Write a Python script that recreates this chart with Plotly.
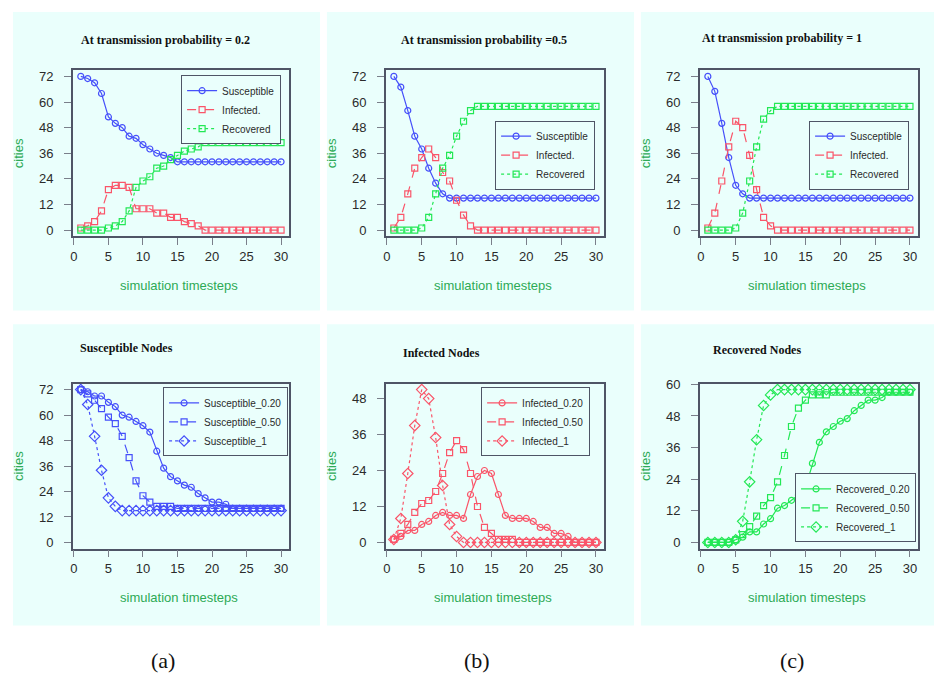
import plotly.graph_objects as go

# ---------------- data ----------------
steps = [1, 2, 3, 4, 5, 6, 7, 8, 9, 10, 11, 12, 13, 14, 15,
         16, 17, 18, 19, 20, 21, 22, 23, 24, 25, 26, 27, 28, 29, 30]
x_ticks = [0, 5, 10, 15, 20, 25, 30]

# top row: one simulation per transmission probability
p02_susceptible = [72, 71, 69, 64, 53, 50, 48, 44, 43, 40, 38, 36, 35, 34, 32,
                   32, 32, 32, 32, 32, 32, 32, 32, 32, 32, 32, 32, 32, 32, 32]
p02_infected = [1, 2, 4, 9, 19, 21, 21, 20, 10, 10, 10, 8, 8, 6, 6,
                4, 3, 2, 0, 0, 0, 0, 0, 0, 0, 0, 0, 0, 0, 0]
p02_recovered = [0, 0, 0, 0, 1, 2, 4, 9, 20, 23, 25, 29, 30, 33, 35,
                 37, 38, 39, 41, 41, 41, 41, 41, 41, 41, 41, 41, 41, 41, 41]

p05_susceptible = [72, 67, 56, 44, 38, 29, 22, 17, 15, 15, 15, 15, 15, 15, 15,
                   15, 15, 15, 15, 15, 15, 15, 15, 15, 15, 15, 15, 15, 15, 15]
p05_infected = [1, 6, 17, 29, 34, 38, 34, 27, 23, 14, 7, 2, 0, 0, 0,
                0, 0, 0, 0, 0, 0, 0, 0, 0, 0, 0, 0, 0, 0, 0]
p05_recovered = [0, 0, 0, 0, 1, 6, 17, 29, 35, 44, 51, 56, 58, 58, 58,
                 58, 58, 58, 58, 58, 58, 58, 58, 58, 58, 58, 58, 58, 58, 58]

p1_susceptible = [72, 65, 50, 34, 21, 17, 15, 15, 15, 15, 15, 15, 15, 15, 15,
                  15, 15, 15, 15, 15, 15, 15, 15, 15, 15, 15, 15, 15, 15, 15]
p1_infected = [1, 8, 23, 39, 51, 48, 35, 19, 6, 2, 0, 0, 0, 0, 0,
               0, 0, 0, 0, 0, 0, 0, 0, 0, 0, 0, 0, 0, 0, 0]
p1_recovered = [0, 0, 0, 0, 1, 8, 23, 39, 52, 56, 58, 58, 58, 58, 58,
                58, 58, 58, 58, 58, 58, 58, 58, 58, 58, 58, 58, 58, 58, 58]

# bottom row: comparison across probabilities
susceptible_020 = [72, 71, 69, 69, 66, 64, 60, 59, 57, 55, 52, 43, 35, 31, 29,
                   27, 26, 23, 21, 19, 19, 18, 16, 16, 16, 16, 16, 16, 16, 16]
susceptible_050 = [72, 70, 67, 63, 59, 56, 50, 40, 29, 22, 19, 17, 17, 17, 16,
                   16, 16, 16, 16, 16, 16, 16, 16, 16, 16, 16, 16, 16, 16, 16]
susceptible_1 = [72, 65, 50, 34, 21, 17, 15, 15, 15, 15, 15, 15, 15, 15, 15,
                 15, 15, 15, 15, 15, 15, 15, 15, 15, 15, 15, 15, 15, 15, 15]

infected_020 = [1, 2, 4, 4, 6, 7, 9, 10, 9, 9, 8, 16, 22, 24, 23,
                16, 9, 8, 8, 8, 7, 5, 5, 3, 3, 2, 0, 0, 0, 0]
infected_050 = [1, 3, 6, 10, 13, 14, 17, 23, 30, 34, 31, 23, 12, 5, 3,
                1, 1, 1, 0, 0, 0, 0, 0, 0, 0, 0, 0, 0, 0, 0]
infected_1 = [1, 8, 23, 39, 51, 48, 35, 19, 6, 2, 0, 0, 0, 0, 0,
              0, 0, 0, 0, 0, 0, 0, 0, 0, 0, 0, 0, 0, 0, 0]

recovered_020 = [0, 0, 0, 0, 1, 2, 4, 4, 7, 9, 13, 14, 16, 18, 21,
                 30, 38, 42, 44, 46, 47, 50, 52, 54, 54, 55, 57, 57, 57, 57]
recovered_050 = [0, 0, 0, 0, 1, 3, 6, 10, 14, 17, 23, 33, 44, 51, 54,
                 56, 56, 56, 57, 57, 57, 57, 57, 57, 57, 57, 57, 57, 57, 57]
recovered_1 = [0, 0, 0, 0, 1, 8, 23, 39, 52, 56, 58, 58, 58, 58, 58,
               58, 58, 58, 58, 58, 58, 58, 58, 58, 58, 58, 58, 58, 58, 58]

top_titles = ["At transmission probability = 0.2",
              "At transmission probability =0.5",
              "At transmission probability = 1"]
bottom_titles = ["Susceptible Nodes", "Infected Nodes", "Recovered Nodes"]
top_series_names = ["Susceptible", "Infected.", "Recovered"]
y_ticks_72 = [0, 12, 24, 36, 48, 60, 72]
y_ticks_48 = [0, 12, 24, 36, 48]
y_ticks_60 = [0, 12, 24, 36, 48, 60]
panel_labels = ["(a)", "(b)", "(c)"]

# ---------------- styling / layout ----------------
W, H = 934, 679
BLUE = "rgb(70,80,250)"
RED = "rgb(250,85,105)"
GREEN = "rgb(35,232,85)"
CYAN = "rgb(234,255,252)"
FRAME = "#4f5566"
TXT = "#2b2b2b"
AXTITLE = "rgb(45,170,85)"
SANS = "Liberation Sans, Arial, sans-serif"
SERIF = "Liberation Serif, Times New Roman, serif"

col_box = [(70, 287), (384, 603), (699, 918)]
row_box = [(64, 232), (381, 548)]
panel_x = [(10, 318), (325, 633), (640, 934)]
panel_y = [(5, 307), (321, 626)]


def fx(v):
    return v / W


def fy(v):
    return 1 - v / H


panels = [
    dict(title=top_titles[0], ymax=72, yticks=y_ticks_72, series=[
        (top_series_names[0], p02_susceptible, BLUE, "solid", "circle-open"),
        (top_series_names[1], p02_infected, RED, "dash", "square-open"),
        (top_series_names[2], p02_recovered, GREEN, "dot", "square-open")],
        legend=dict(right=279, top=69)),
    dict(title=top_titles[1], ymax=72, yticks=y_ticks_72, series=[
        (top_series_names[0], p05_susceptible, BLUE, "solid", "circle-open"),
        (top_series_names[1], p05_infected, RED, "dash", "square-open"),
        (top_series_names[2], p05_recovered, GREEN, "dot", "square-open")],
        legend=dict(right=594, top=115)),
    dict(title=top_titles[2], ymax=72, yticks=y_ticks_72, series=[
        (top_series_names[0], p1_susceptible, BLUE, "solid", "circle-open"),
        (top_series_names[1], p1_infected, RED, "dash", "square-open"),
        (top_series_names[2], p1_recovered, GREEN, "dot", "square-open")],
        legend=dict(right=909, top=115)),
    dict(title=bottom_titles[0], ymax=72, yticks=y_ticks_72, series=[
        ("Susceptible_0.20", susceptible_020, BLUE, "solid", "circle-open"),
        ("Susceptible_0.50", susceptible_050, BLUE, "dash", "square-open"),
        ("Susceptible_1", susceptible_1, BLUE, "dot", "diamond-open")],
        legend=dict(right=286, top=385)),
    dict(title=bottom_titles[1], ymax=51, yticks=y_ticks_48, series=[
        ("Infected_0.20", infected_020, RED, "solid", "circle-open"),
        ("Infected_0.50", infected_050, RED, "dash", "square-open"),
        ("Infected_1", infected_1, RED, "dot", "diamond-open")],
        legend=dict(right=589, top=385)),
    dict(title=bottom_titles[2], ymax=58, yticks=y_ticks_60, series=[
        ("Recovered_0.20", recovered_020, GREEN, "solid", "circle-open"),
        ("Recovered_0.50", recovered_050, GREEN, "dash", "square-open"),
        ("Recovered_1", recovered_1, GREEN, "dot", "diamond-open")],
        legend=dict(right=916, top=472)),
]

title_pos = [(163, 33), (483, 33), (782, 31), (124, 345), (440, 350), (756, 347)]

fig = go.Figure()
layout = dict(
    width=W, height=H, margin=dict(l=0, r=0, t=0, b=0),
    paper_bgcolor="white", plot_bgcolor=CYAN,
    showlegend=True, shapes=[], annotations=[],
)

for i, p in enumerate(panels):
    r, c = divmod(i, 3)
    n = i + 1
    xa = "x" if n == 1 else f"x{n}"
    ya = "y" if n == 1 else f"y{n}"
    lg = "legend" if n == 1 else f"legend{n}"
    sizes = {"circle-open": 6, "square-open": 6, "diamond-open": 8}
    for name, vals, color, dash, sym in p["series"]:
        fig.add_trace(go.Scatter(
            x=steps, y=vals, name=name, mode="lines+markers",
            xaxis=xa, yaxis=ya, legend=lg,
            line=dict(color=color, width=1.2, dash=dash),
            marker=dict(symbol=sym, size=sizes[sym], color=color,
                        line=dict(color=color, width=1.2)),
        ))
    ymax = p["ymax"]
    pad = ymax * 0.04
    x0, x1 = col_box[c]
    y0, y1 = row_box[r]
    layout["xaxis" if n == 1 else f"xaxis{n}"] = dict(
        domain=[fx(x0), fx(x1)], anchor=ya, range=[1 - 1.16, 30 + 1.16],
        tickvals=x_ticks, ticks="outside", ticklen=7, tickcolor="#7a7f8a",
        showline=True, mirror=True, linecolor=FRAME, linewidth=1.5,
        showgrid=False, zeroline=False,
        tickfont=dict(family=SANS, size=13, color=TXT),
    )
    layout["yaxis" if n == 1 else f"yaxis{n}"] = dict(
        domain=[fy(y1), fy(y0)], anchor=xa, range=[-pad, ymax + pad],
        tickvals=p["yticks"], ticks="outside", ticklen=7, tickcolor="#7a7f8a",
        showline=True, mirror=True, linecolor=FRAME, linewidth=1.5,
        showgrid=False, zeroline=False, ticklabelstandoff=8,
        tickfont=dict(family=SANS, size=13, color=TXT),
    )
    L = p["legend"]
    layout[lg] = dict(
        x=fx(L["right"]), y=fy(L["top"]), xanchor="right", yanchor="top",
        bgcolor=CYAN, bordercolor=FRAME, borderwidth=1,
        font=dict(family=SANS, size=10, color=TXT),
        itemwidth=30, tracegroupgap=0,
    )
    # panel background
    px0, px1 = panel_x[c]
    py0, py1 = panel_y[r]
    layout["shapes"].append(dict(
        type="rect", xref="paper", yref="paper", layer="below",
        x0=fx(px0), x1=fx(px1), y0=fy(py1), y1=fy(py0),
        fillcolor=CYAN, line=dict(width=0)))
    # panel title
    tx, ty = title_pos[i]
    layout["annotations"].append(dict(
        text=f"<b>{p['title']}</b>", xref="paper", yref="paper",
        x=fx(tx), y=fy(ty), showarrow=False, xanchor="center", yanchor="middle",
        font=dict(family=SERIF, size=12, color="#111")))
    # axis titles
    layout["annotations"].append(dict(
        text="cities", xref="paper", yref="paper", textangle=-90,
        x=fx(x0 - 55), y=fy((y0 + y1) / 2), showarrow=False,
        xanchor="center", yanchor="middle",
        font=dict(family=SANS, size=13, color=AXTITLE)))
    layout["annotations"].append(dict(
        text="simulation timesteps", xref="paper", yref="paper",
        x=fx((x0 + x1) / 2 - 2), y=fy(y1 + 50), showarrow=False,
        xanchor="center", yanchor="middle",
        font=dict(family=SANS, size=13, color=AXTITLE)))

for k, lab in enumerate(panel_labels):
    layout["annotations"].append(dict(
        text=lab, xref="paper", yref="paper",
        x=fx([161, 476, 792][k]), y=fy(661), showarrow=False,
        xanchor="center", yanchor="middle",
        font=dict(family=SERIF, size=22, color="#111")))

fig.update_layout(**layout)
fig.write_html(
    "out.html",
    config={"displayModeBar": False},
    post_script="document.body.style.margin='0px';"
                "document.body.style.overflow='hidden';",
)
